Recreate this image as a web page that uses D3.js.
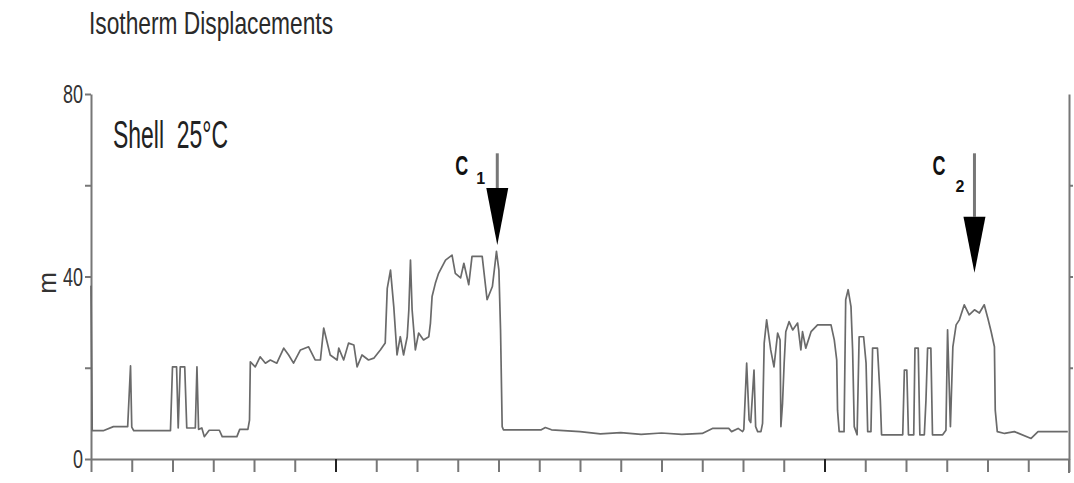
<!DOCTYPE html>
<html>
<head>
<meta charset="utf-8">
<script src="https://cdn.jsdelivr.net/npm/d3@7"></script>
<style>
  body { margin: 0; background: #fff; }
</style>
</head>
<body>
<div id="chart"></div>
<script>
// trace: time (axis units, 24 divisions) and displacement (m)
const times = [
  0, 0.03, 0.3, 0.55, 0.9, 0.97, 1.0, 1.05, 1.95, 2.0, 2.1, 2.14, 2.19, 2.3, 2.35, 2.56, 2.6, 2.64,
  2.72, 2.78, 2.9, 3.15, 3.22, 3.58, 3.65, 3.85, 3.89,
  3.91, 4.03, 4.15, 4.28, 4.40, 4.56, 4.73, 4.85, 4.97, 5.14, 5.34, 5.50, 5.63, 5.71, 5.87, 6.04,
  6.08, 6.20, 6.32, 6.45, 6.53, 6.65, 6.81, 6.94, 7.10, 7.22, 7.27, 7.35, 7.43, 7.51, 7.59, 7.67,
  7.76, 7.80, 7.84, 7.88, 7.96, 8.04, 8.16, 8.29, 8.33, 8.37, 8.45, 8.53, 8.70, 8.86, 8.94, 9.07,
  9.15, 9.27, 9.35, 9.60, 9.72, 9.85, 9.95, 10.01, 10.05, 10.09, 10.12,
  11.05, 11.15, 11.3, 12.0, 12.5, 13.0, 13.5, 14.0, 14.5, 15.0, 15.25, 15.65, 15.72, 15.88, 15.99,
  16.02, 16.09, 16.15, 16.19, 16.27, 16.31, 16.36, 16.44, 16.48, 16.52, 16.58, 16.68, 16.76, 16.85,
  16.91, 16.93, 16.97, 17.01, 17.05, 17.13, 17.22, 17.34, 17.42, 17.46, 17.54, 17.67, 17.83, 18.16,
  18.24, 18.30, 18.32, 18.36, 18.48, 18.52, 18.58, 18.65, 18.69, 18.73, 18.80, 18.85, 18.96, 19.02,
  19.06, 19.14, 19.18, 19.30, 19.37, 19.40, 19.92, 19.96, 20.02, 20.06, 20.19, 20.22, 20.30, 20.34,
  20.45, 20.49, 20.53, 20.61, 20.65, 20.90, 20.98, 21.02, 21.09, 21.15, 21.23, 21.31, 21.43, 21.55,
  21.68, 21.80, 21.92, 22.01, 22.09, 22.17, 22.19, 22.24, 22.42, 22.66, 23.07, 23.24, 23.97
];
const depths = [
  38, 6.2, 6.2, 7.1, 7.1, 20.4, 7.0, 6.2, 6.2, 20.2, 20.2, 6.8, 20.2, 20.2, 6.8, 6.8, 20.2, 6.5,
  6.8, 4.9, 6.3, 6.3, 4.9, 4.9, 6.5, 6.5, 8.5,
  21.3, 20.2, 22.4, 21.0, 21.7, 21.0, 24.3, 22.8, 21.0, 23.9, 24.6, 21.7, 21.7, 28.7, 22.8, 21.7,
  24.3, 21.7, 25.4, 25.0, 20.2, 22.8, 21.7, 22.1, 23.9, 25.4, 37.4, 41.4, 33.4, 22.8, 26.8, 22.8,
  26.8, 32.7, 43.6, 32.7, 23.9, 27.6, 26.1, 26.8, 29.8, 35.6, 38.5, 40.7, 43.6, 44.7, 40.7, 39.7,
  42.9, 38.2, 44.4, 44.4, 34.9, 37.8, 45.5, 41.4, 28.3, 7.1, 6.4,
  6.4, 6.9, 6.4, 6.0, 5.5, 5.8, 5.4, 5.7, 5.4, 5.6, 6.7, 6.7, 6.0, 6.7, 6.0,
  6.5, 21.0, 8.6, 8.0, 19.5, 7.1, 6.0, 6.0, 7.8, 25.4, 30.5, 23.9, 20.2, 27.6,
  26.1, 7.1, 12.2, 21.0, 27.9, 30.1, 28.3, 29.8, 23.9, 27.9, 24.3, 27.9, 29.4, 29.4,
  26.1, 21.7, 10.7, 6.0, 6.0, 34.9, 37.1, 33.4, 23.9, 7.1, 5.3, 26.8, 26.8, 21.0,
  6.0, 6.0, 24.3, 24.3, 12.9, 5.3, 5.3, 19.5, 19.5, 5.3, 5.3, 24.3, 24.3, 5.3,
  5.3, 12.9, 24.3, 24.3, 5.3, 5.3, 6.3, 28.3, 7.1, 24.6, 29.4, 30.5, 33.8, 31.6,
  32.7, 32.0, 33.8, 30.8, 27.9, 24.6, 10.7, 6.0, 5.6, 6.0, 4.5, 6.0, 6.0
];

const yTicks = [0, 20, 40, 60, 80];
const yLabels = [0, 40, 80];
const xTicks = d3.range(0, 25);

// event markers
const markerNames = ['C', 'C'];
const markerSubs = ['1', '2'];
const markerTimes = [9.97, 21.68];
const markerTips = [46.9, 40.8];
const markerBases = [59.4, 53.1];
const markerTops = [67, 67];

const width = 1074;
const height = 483;
const font = '"Liberation Sans Narrow", "Liberation Sans", Arial, sans-serif';

const svg = d3.select('#chart')
  .append('svg')
  .attr('width', width)
  .attr('height', height);

const x = d3.scaleLinear().domain([0, 24]).range([91, 1069]);
const y = d3.scaleLinear().domain([0, 80]).range([459, 94]);

function addText(str, px, py, size, len, anchor, color) {
  const t = svg.append('text')
    .attr('x', px)
    .attr('y', py)
    .attr('text-anchor', anchor || 'start')
    .style('font-family', font)
    .style('font-size', size + 'px')
    .style('fill', color || '#2a2a2a')
    .style('white-space', 'pre')
    .text(str);
  if (len) {
    t.attr('textLength', len).attr('lengthAdjust', 'spacingAndGlyphs');
  }
  return t;
}

// axes
const axisColor = '#777';

const left = svg.append('g')
  .attr('transform', `translate(${x(0)},0)`)
  .call(d3.axisLeft(y).tickValues(yTicks).tickSize(6).tickSizeOuter(0).tickFormat(''));

const right = svg.append('g')
  .attr('transform', `translate(${x(24)},0)`)
  .call(d3.axisRight(y).tickValues([20, 40, 60]).tickSize(4).tickSizeOuter(0).tickFormat(''));

const bottom = svg.append('g')
  .attr('transform', `translate(0,${y(0)})`)
  .call(d3.axisBottom(x).tickValues(xTicks).tickSize(13).tickSizeOuter(0).tickFormat(''));

svg.append('line')
  .attr('x1', x(24)).attr('x2', x(24))
  .attr('y1', y(0)).attr('y2', y(0) + 14)
  .attr('stroke', axisColor)
  .attr('stroke-width', 2);

[left, right, bottom].forEach(g => {
  g.select('.domain').attr('stroke', axisColor).attr('stroke-width', 2);
  g.selectAll('.tick line').attr('stroke', axisColor).attr('stroke-width', 2);
});
bottom.selectAll('.tick line')
  .filter(d => d === 6 || d === 18)
  .attr('stroke', '#222');

yLabels.forEach(v => {
  addText(String(v), 83, y(v) + 9, 25, String(v).length * 10, 'end', '#333');
});

// trace
const points = times.map((t, i) => [t, depths[i]]);
svg.append('path')
  .datum(points)
  .attr('fill', 'none')
  .attr('stroke', '#6a6a6a')
  .attr('stroke-width', 1.7)
  .attr('stroke-linejoin', 'round')
  .attr('d', d3.line().x(d => x(d[0])).y(d => y(d[1])));

// arrows
markerTimes.forEach((t, i) => {
  const cx = x(t);
  svg.append('line')
    .attr('x1', cx).attr('x2', cx)
    .attr('y1', y(markerTops[i])).attr('y2', y(markerBases[i]))
    .attr('stroke', '#777')
    .attr('stroke-width', 3);
  svg.append('path')
    .attr('d', `M${cx - 11},${y(markerBases[i])} L${cx + 11},${y(markerBases[i])} L${cx},${y(markerTips[i])} Z`)
    .attr('fill', '#000');
  addText(markerNames[i], cx - 42, y(markerTops[i]) + 22, 28, 13, 'start', '#111')
    .style('font-weight', 'bold');
  addText(markerSubs[i], cx - 21 + (i ? 2 : 0), y(markerTops[i]) + 31 + i * 8, 16, null, 'start', '#111')
    .style('font-weight', 'bold');
});

// titles
addText('Isotherm Displacements', 89, 34, 32, 244, 'start', '#2a2a2a');
addText('Shell  25°C', 113, 148, 38, 115, 'start', '#222');

svg.append('text')
  .attr('transform', `translate(56,283) rotate(-90)`)
  .attr('text-anchor', 'middle')
  .style('font-family', font)
  .style('font-size', '26px')
  .style('fill', '#333')
  .text('m');
</script>
</body>
</html>
